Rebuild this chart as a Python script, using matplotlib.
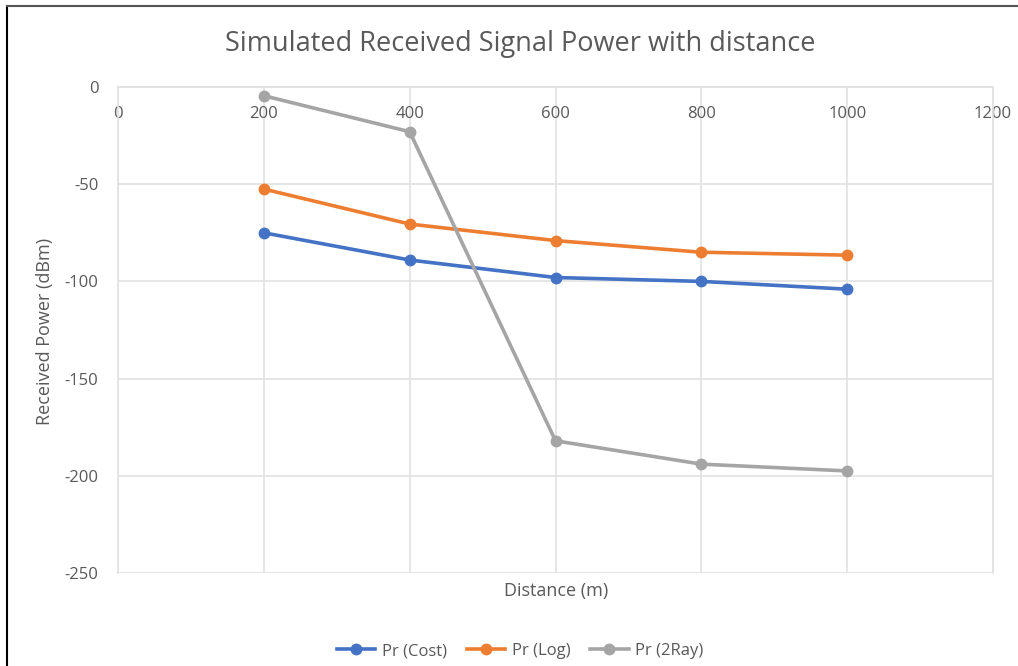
import matplotlib
matplotlib.use("Agg")
import matplotlib.pyplot as plt
from matplotlib.lines import Line2D

distance = [200, 400, 600, 800, 1000]
pr_cost = [-75, -89, -98, -100, -104]
pr_log = [-52.5, -70.5, -79, -85, -86.5]
pr_2ray = [-4.5, -23, -182, -194, -197.5]
series_names = ["Pr (Cost)", "Pr (Log)", "Pr (2Ray)"]
x_ticks = [0, 200, 400, 600, 800, 1000, 1200]
y_ticks = [0, -50, -100, -150, -200, -250]

plt.rcParams['font.family'] = ['Open Sans', 'DejaVu Sans']
plt.rcParams['axes.unicode_minus'] = False
txt = '#595959'
grid = '#E2E2E2'

fig = plt.figure(figsize=(10.18, 6.66), dpi=100)
ax = fig.add_axes([118/1018, 1-573/666, (993-118)/1018, (573-87)/666])

colors = ['#4472C4', '#ED7D31', '#A5A5A5']
for vals, name, c in zip([pr_cost, pr_log, pr_2ray], series_names, colors):
    ax.plot(distance, vals, color=c, lw=2.6, marker='o', ms=7.5, label=name, zorder=3)

ax.set_xlim(0, 1200)
ax.set_ylim(-250, 0)
ax.set_xticks(x_ticks)
ax.set_yticks(y_ticks)
ax.grid(True, color=grid, lw=1.2)
for s in ax.spines.values():
    s.set_color(grid)
    s.set_linewidth(1.2)
ax.spines['bottom'].set_position(('data', 0))
ax.spines['bottom'].set_zorder(1)
ax.tick_params(length=0, labelsize=12, colors=txt)
ax.tick_params(axis='y', pad=14)
ax.tick_params(axis='x', pad=14)

fig.text(520/1018, 1-44/666, 'Simulated Received Signal Power with distance',
         ha='center', va='center', fontsize=19.5, color=txt)
fig.text(556/1018, 1-591/666, 'Distance (m)', ha='center', va='center', fontsize=13, color=txt)
fig.text(45/1018, 1-331/666, 'Received Power (dBm)', ha='center', va='center',
         rotation=90, fontsize=13, color=txt)

handles, labels = ax.get_legend_handles_labels()
fig.legend(handles, labels, loc='center', bbox_to_anchor=(520/1018, 1-651/666), ncol=3,
           frameon=False, fontsize=12, labelcolor=txt, handlelength=2.3,
           columnspacing=1.2, handletextpad=0.4)

fig.add_artist(Line2D([7/1018, 7/1018], [0, 1-6/666], color='black', lw=1.5))
fig.add_artist(Line2D([7/1018, 1], [1-6/666, 1-6/666], color='#555555', lw=1.5))

fig.savefig('out.png', dpi=100)
